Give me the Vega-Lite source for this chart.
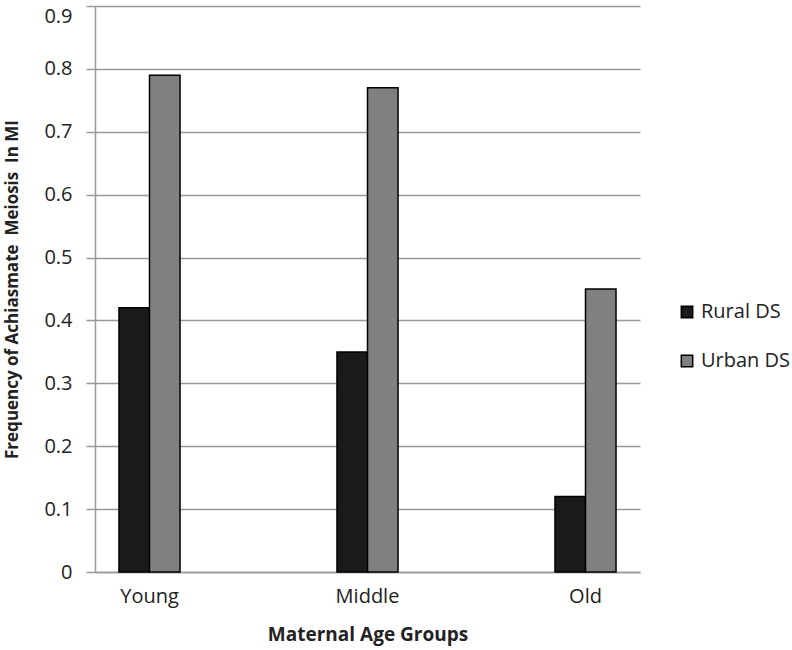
{
  "$schema": "https://vega.github.io/schema/vega-lite/v6.json",
  "width": 545,
  "height": 566,
  "autosize": {"type": "none"},
  "padding": {"left": 95, "top": 6, "right": 152, "bottom": 78},
  "background": "white",
  "config": {"view": {"stroke": null}, "font": "Open Sans"},
  "data": {
    "values": [
      {"group": "Young", "series": "Rural DS", "value": 0.42},
      {"group": "Young", "series": "Urban DS", "value": 0.79},
      {"group": "Middle", "series": "Rural DS", "value": 0.35},
      {"group": "Middle", "series": "Urban DS", "value": 0.77},
      {"group": "Old", "series": "Rural DS", "value": 0.12},
      {"group": "Old", "series": "Urban DS", "value": 0.45}
    ]
  },
  "mark": {"type": "bar", "stroke": "#000000", "strokeWidth": 1.5},
  "encoding": {
    "x": {
      "field": "group",
      "type": "nominal",
      "sort": ["Young", "Middle", "Old"],
      "scale": {"paddingInner": 0.72, "paddingOuter": 0.11},
      "axis": {
        "title": "Maternal Age Groups",
        "titleFontSize": 19,
        "titleFontWeight": "bold",
        "titleColor": "#222222",
        "titlePadding": 19,
        "labelAngle": 0,
        "labelFontSize": 20,
        "labelColor": "#222222",
        "labelPadding": 14,
        "ticks": false,
        "domainColor": "#999999",
        "domainWidth": 1.5,
        "grid": false
      }
    },
    "xOffset": {"field": "series", "type": "nominal", "scale": {"paddingInner": 0, "paddingOuter": 0}},
    "y": {
      "field": "value",
      "type": "quantitative",
      "scale": {"domain": [0, 0.9], "nice": false},
      "axis": {
        "title": "Frequency of Achiasmate\u00a0 Meiosis\u00a0 In MI",
        "titleFontSize": 17,
        "titleFontWeight": "bold",
        "titleColor": "#222222",
        "titlePadding": 22,
        "values": [0, 0.1, 0.2, 0.3, 0.4, 0.5, 0.6, 0.7, 0.8, 0.9],
        "format": ".1~f",
        "labelFontSize": 20,
        "labelColor": "#222222",
        "labelPadding": 14,
        "labelBaseline": {"condition": {"test": "datum.value >= 0.9", "value": "top"}, "value": "middle"},
        "tickSize": 9,
        "tickColor": "#999999",
        "tickWidth": 1.5,
        "domainColor": "#999999",
        "domainWidth": 1.5,
        "grid": true,
        "gridColor": "#999999",
        "gridWidth": 1.5
      }
    },
    "color": {
      "field": "series",
      "type": "nominal",
      "scale": {"domain": ["Rural DS", "Urban DS"], "range": ["#1a1a1a", "#808080"]},
      "legend": {
        "title": null,
        "orient": "none",
        "legendX": 582,
        "legendY": 296,
        "symbolType": "square",
        "symbolSize": 130,
        "symbolStrokeColor": "#000000",
        "symbolStrokeWidth": 1.5,
        "labelFontSize": 20,
        "labelColor": "#222222",
        "labelOffset": 4,
        "rowPadding": 29
      }
    }
  }
}
